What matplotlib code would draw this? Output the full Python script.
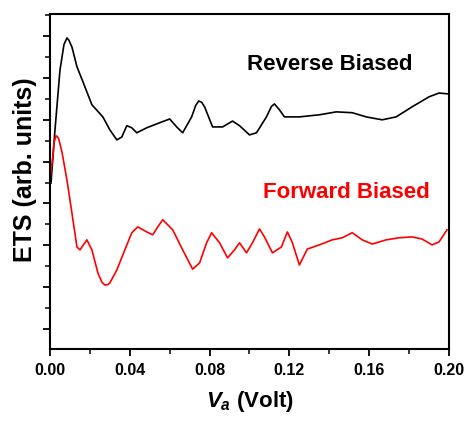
import matplotlib
matplotlib.use("Agg")
import matplotlib.pyplot as plt
from matplotlib.ticker import MultipleLocator

plt.rcParams['font.family'] = ['Liberation Sans', 'DejaVu Sans']
plt.rcParams['mathtext.fontset'] = 'custom'
plt.rcParams['mathtext.rm'] = 'Liberation Sans:bold'
plt.rcParams['mathtext.it'] = 'Liberation Sans:bold:italic'

# Reverse biased spectrum (black)
v_rev = [0.0005, 0.0025, 0.005, 0.007, 0.0085, 0.0095, 0.011, 0.0135, 0.0165, 0.021,
         0.0265, 0.030, 0.0335, 0.036, 0.0385, 0.041, 0.0435, 0.0485, 0.055, 0.060,
         0.0635, 0.0665, 0.071, 0.073, 0.0745, 0.076, 0.0775, 0.0815, 0.0865, 0.0915,
         0.095, 0.100, 0.1035, 0.1085, 0.111, 0.1125, 0.115, 0.1175, 0.125, 0.135,
         0.1435, 0.1515, 0.1585, 0.1665, 0.1735, 0.1815, 0.190, 0.195, 0.1995]
ets_rev = [3.49, 4.76, 6.19, 6.80, 6.96, 6.90, 6.74, 6.27, 5.91, 5.36,
           5.07, 4.76, 4.52, 4.59, 4.86, 4.81, 4.69, 4.81, 4.93, 5.02,
           4.83, 4.69, 5.07, 5.34, 5.45, 5.42, 5.31, 4.83, 4.83, 4.97,
           4.86, 4.64, 4.69, 5.07, 5.32, 5.38, 5.24, 5.07, 5.07, 5.12,
           5.19, 5.17, 5.07, 5.00, 5.07, 5.31, 5.55, 5.64, 5.62]

# Forward biased spectrum (red)
v_fwd = [0.0, 0.0015, 0.002, 0.003, 0.004, 0.0045, 0.006, 0.0085, 0.011, 0.0135,
         0.015, 0.0185, 0.021, 0.024, 0.026, 0.0275, 0.029, 0.030, 0.0335, 0.0375,
         0.041, 0.044, 0.0485, 0.0515, 0.054, 0.0565, 0.0615, 0.0665, 0.0715, 0.075,
         0.0785, 0.081, 0.085, 0.089, 0.0925, 0.095, 0.0985, 0.1015, 0.105, 0.1075,
         0.1115, 0.116, 0.119, 0.1215, 0.125, 0.129, 0.135, 0.1415, 0.1465, 0.1515,
         0.1565, 0.1615, 0.1685, 0.175, 0.1815, 0.1865, 0.1915, 0.195, 0.199]
ets_fwd = [3.56, 4.16, 4.45, 4.62, 4.58, 4.52, 4.23, 3.56, 2.77, 1.96,
           1.89, 2.13, 1.89, 1.34, 1.12, 1.05, 1.06, 1.10, 1.41, 1.89,
           2.30, 2.44, 2.32, 2.25, 2.44, 2.61, 2.37, 1.89, 1.43, 1.58,
           2.06, 2.30, 2.06, 1.70, 1.89, 2.06, 1.82, 2.06, 2.39, 2.20,
           1.82, 1.96, 2.32, 2.06, 1.53, 1.91, 2.01, 2.13, 2.18, 2.30,
           2.13, 2.03, 2.13, 2.18, 2.20, 2.15, 2.01, 2.08, 2.37]

x_ticks = [0.00, 0.04, 0.08, 0.12, 0.16, 0.20]

fig = plt.figure(figsize=(4.66, 4.23), dpi=100)
ax = fig.add_axes([0.1073, 0.1749, 0.8562, 0.7920])

ax.plot(v_rev, ets_rev, color='black', lw=1.2, solid_joinstyle='round')
ax.plot(v_fwd, ets_fwd, color='red', lw=1.2, solid_joinstyle='round')

ax.set_xlim(0, 0.20)
ax.set_ylim(-0.48, 7.53)
ax.set_xticks(x_ticks)
ax.set_xticklabels([f"{t:.2f}" for t in x_ticks], fontsize=11.5, fontweight='bold')
ax.xaxis.set_minor_locator(MultipleLocator(0.02))
ax.yaxis.set_major_locator(MultipleLocator(1))
ax.yaxis.set_minor_locator(MultipleLocator(0.5))
ax.tick_params(which='major', direction='out', length=5, width=1.3, pad=5)
ax.tick_params(which='minor', direction='out', length=3.5, width=1.1)
ax.tick_params(axis='y', which='both', labelleft=False)
for s in ax.spines.values():
    s.set_linewidth(1.5)

ax.text(0.70, 0.848, 'Reverse Biased', transform=ax.transAxes, ha='center', va='center',
        fontsize=16, fontweight='bold', color='black')
ax.text(0.742, 0.466, 'Forward Biased', transform=ax.transAxes, ha='center', va='center',
        fontsize=16, fontweight='bold', color='red')

ax.set_ylabel('ETS (arb. units)', fontsize=18, fontweight='bold')
ax.yaxis.set_label_coords(-0.033, 0.534)
ax.set_xlabel(r'$V_a$ (Volt)', fontsize=16, fontweight='bold')
ax.xaxis.set_label_coords(0.5, -0.12)

fig.savefig('out.png', dpi=100)
